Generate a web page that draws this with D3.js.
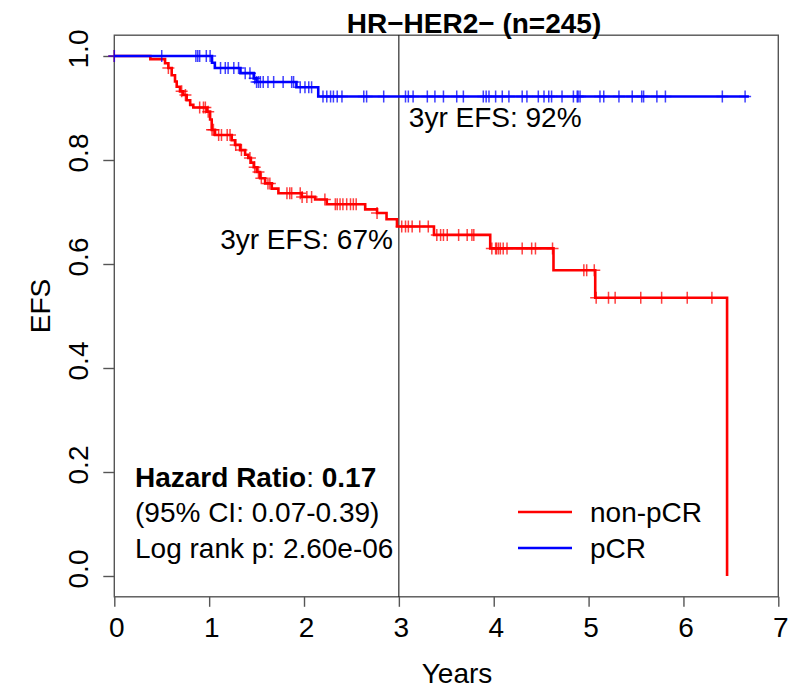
<!DOCTYPE html>
<html>
<head>
<meta charset="utf-8">
<script src="https://cdn.jsdelivr.net/npm/d3@7"></script>
<style>
    body { margin: 0; background: #fff; }
    text { font-family: 'Liberation Sans', Arial, sans-serif; }
</style>
</head>
<body>
<div id="chart"></div>
<script>
'use strict';

/************************************************ Data ******************************************************/

var chartTitle = 'HR\u2212HER2\u2212 (n=245)';
var xTicks = [0, 1, 2, 3, 4, 5, 6, 7];
var yTicks = [0, 0.2, 0.4, 0.6, 0.8, 1.0];
var landmarkYear = 3;

//non-pCR: step times (years) and survival after each step
var redStepTimes = [0, 0.38, 0.535, 0.57, 0.605, 0.64, 0.658, 0.693, 0.728, 0.763, 0.80, 0.833, 0.975, 1.01, 1.027,
    1.062, 1.238, 1.273, 1.326, 1.379, 1.413, 1.44, 1.47, 1.502, 1.537, 1.59, 1.66, 1.73, 1.977, 2.117, 2.24, 2.645,
    2.77, 2.87, 2.98, 3.37, 3.963, 4.63, 5.07, 6.46];
var redStepSurv = [1.0, 0.994, 0.986, 0.977, 0.963, 0.951, 0.941, 0.932, 0.925, 0.915, 0.906, 0.901, 0.893, 0.878, 0.858,
    0.848, 0.838, 0.829, 0.819, 0.81, 0.804, 0.795, 0.786, 0.777, 0.765, 0.755, 0.745, 0.736, 0.729, 0.724, 0.715, 0.705,
    0.698, 0.686, 0.672, 0.656, 0.630, 0.588, 0.535, 0.0];
var redCensorTimes = [0, 0.57, 0.71, 0.75, 0.90, 0.94, 0.96, 0.99, 1.03, 1.045, 1.10, 1.13, 1.19, 1.22, 1.28, 1.34,
    1.43, 1.48, 1.52, 1.55, 1.62, 1.64, 1.82, 1.85, 1.87, 1.96, 1.98, 2.03, 2.08, 2.22, 2.33, 2.35, 2.38, 2.41, 2.45,
    2.49, 2.52, 2.55, 2.77, 3.03, 3.07, 3.10, 3.14, 3.22, 3.31, 3.40, 3.44, 3.47, 3.51, 3.63, 3.72, 3.77, 3.79,
    3.98, 4.02, 4.03, 4.05, 4.07, 4.10, 4.14, 4.30, 4.40, 4.44, 4.62, 4.95, 4.98, 5.06, 5.08, 5.21, 5.28, 5.55,
    5.77, 6.04, 6.30];

//pCR
var blueStepTimes = [0, 1.03, 1.06, 1.33, 1.47, 1.50, 1.92, 2.15, 6.69];
var blueStepSurv = [1.0, 0.987, 0.977, 0.967, 0.957, 0.950, 0.940, 0.922, 0.922];
var blueCensorTimes = [0, 0.50, 0.86, 0.88, 0.90, 0.97, 1.01, 1.12, 1.17, 1.20, 1.26, 1.31, 1.38, 1.43, 1.48, 1.50,
    1.52, 1.54, 1.57, 1.62, 1.68, 1.78, 1.87, 1.89, 1.96, 2.01, 2.05, 2.08, 2.20, 2.24, 2.28, 2.31, 2.35, 2.40, 2.63,
    2.66, 2.84, 3.07, 3.10, 3.15, 3.30, 3.38, 3.47, 3.61, 3.68, 3.89, 3.92, 3.95, 4.02, 4.09, 4.16, 4.30, 4.35, 4.47,
    4.53, 4.58, 4.61, 4.72, 4.84, 4.88, 4.89, 4.91, 5.12, 5.16, 5.32, 5.46, 5.56, 5.58, 5.72, 5.81, 6.41, 6.65];

var groupNames = ['non-pCR', 'pCR'];
var groupColors = ['#ff0000', '#0000ff'];
var efsLabels = ['3yr EFS: 67%', '3yr EFS: 92%'];
var statLines = ['(95% CI: 0.07-0.39)', 'Log rank p: 2.60e-06'];
var hazardRatio = '0.17';

/************************************************ Chart ******************************************************/

var width = 797,
    height = 688,
    plot = { left: 114.3, right: 778.3, top: 35.2, bottom: 596.8 },
    fontSize = 28;

var svg = d3.select('#chart').append('svg')
    .attr('width', width)
    .attr('height', height);

var x = d3.scaleLinear().domain([0, 7]).range([plot.left, plot.right]);
var y = d3.scaleLinear().domain([-0.04, 1.04]).range([plot.bottom, plot.top]);

//Frame
svg.append('rect')
    .attr('x', plot.left)
    .attr('y', plot.top)
    .attr('width', plot.right - plot.left)
    .attr('height', plot.bottom - plot.top)
    .attr('fill', 'none')
    .attr('stroke', '#555')
    .attr('stroke-width', 1.4);

//X axis
var xAxis = svg.append('g')
    .attr('transform', 'translate(0,' + plot.bottom + ')')
    .call(d3.axisBottom(x).tickValues(xTicks).tickSize(10).tickSizeOuter(0).tickFormat(d3.format('d')));
xAxis.select('.domain').remove();
xAxis.selectAll('line').attr('stroke', '#555').attr('stroke-width', 1.4);
xAxis.selectAll('text')
    .attr('font-size', fontSize)
    .attr('fill', '#000')
    .attr('dy', null)
    .attr('y', 40)
    .attr('x', 2);

//Y axis
var yAxis = svg.append('g')
    .attr('transform', 'translate(' + plot.left + ',0)')
    .call(d3.axisLeft(y).tickValues(yTicks).tickSize(11).tickSizeOuter(0).tickFormat(d3.format('.1f')));
yAxis.select('.domain').remove();
yAxis.selectAll('line').attr('stroke', '#555').attr('stroke-width', 1.4);
yAxis.selectAll('text')
    .attr('font-size', fontSize)
    .attr('fill', '#000')
    .attr('x', null)
    .attr('dy', null)
    .attr('text-anchor', 'middle')
    .attr('transform', 'translate(-26,-7.5) rotate(-90)');

//Axis titles
svg.append('text')
    .attr('x', 457)
    .attr('y', 683)
    .attr('text-anchor', 'middle')
    .attr('font-size', fontSize)
    .text('Years');

svg.append('text')
    .attr('transform', 'translate(50,306) rotate(-90)')
    .attr('text-anchor', 'middle')
    .attr('font-size', fontSize)
    .text('EFS');

svg.append('text')
    .attr('x', 474)
    .attr('y', 33)
    .attr('text-anchor', 'middle')
    .attr('font-size', fontSize)
    .attr('font-weight', 'bold')
    .text(chartTitle);

//Landmark line
svg.append('line')
    .attr('x1', x(landmarkYear))
    .attr('x2', x(landmarkYear))
    .attr('y1', plot.top)
    .attr('y2', plot.bottom)
    .attr('stroke', '#000')
    .attr('stroke-width', 1);

function survAt(times, surv, t) {
    var i = d3.bisectRight(times, t) - 1;
    return surv[Math.max(i, 0)];
}

function drawCurve(times, surv, censors, color) {
    var pts = times.map((t, i) => [t, surv[i]]);
    var line = d3.line()
        .x(d => x(d[0]))
        .y(d => y(d[1]))
        .curve(d3.curveStepAfter);

    svg.append('path')
        .datum(pts)
        .attr('d', line)
        .attr('fill', 'none')
        .attr('stroke', color)
        .attr('stroke-width', 2.6);

    svg.append('g')
        .selectAll('path')
        .data(censors)
        .enter().append('path')
        .attr('d', t => {
            var cx = x(t),
                cy = y(survAt(times, surv, t));
            return 'M' + (cx - 6) + ',' + cy + 'H' + (cx + 6) + 'M' + cx + ',' + (cy - 6) + 'V' + (cy + 6);
        })
        .attr('fill', 'none')
        .attr('stroke', color)
        .attr('stroke-opacity', 0.75)
        .attr('stroke-width', 1.5);
}

drawCurve(redStepTimes, redStepSurv, redCensorTimes, groupColors[0]);
drawCurve(blueStepTimes, blueStepSurv, blueCensorTimes, groupColors[1]);

//3yr EFS labels
svg.append('text')
    .attr('x', x(landmarkYear) - 6)
    .attr('y', 249)
    .attr('text-anchor', 'end')
    .attr('font-size', fontSize)
    .text(efsLabels[0]);

svg.append('text')
    .attr('x', x(landmarkYear) + 10)
    .attr('y', 127)
    .attr('text-anchor', 'start')
    .attr('font-size', fontSize)
    .text(efsLabels[1]);

//Hazard ratio block
var hr = svg.append('text')
    .attr('x', 135)
    .attr('y', 487)
    .attr('font-size', fontSize);
hr.append('tspan').attr('font-weight', 'bold').text('Hazard Ratio');
hr.append('tspan').text(': ');
hr.append('tspan').attr('font-weight', 'bold').text(hazardRatio);

statLines.forEach((s, i) => {
    svg.append('text')
        .attr('x', 135)
        .attr('y', 522 + i * 36)
        .attr('font-size', fontSize)
        .text(s);
});

//Legend
var legend = svg.append('g').attr('class', 'legend');
groupNames.forEach((name, i) => {
    var ly = 512 + i * 36;
    legend.append('line')
        .attr('x1', 518)
        .attr('x2', 572)
        .attr('y1', ly)
        .attr('y2', ly)
        .attr('stroke', groupColors[i])
        .attr('stroke-width', 2.6);
    legend.append('text')
        .attr('x', 590)
        .attr('y', ly + 10)
        .attr('font-size', fontSize)
        .text(name);
});
</script>
</body>
</html>
